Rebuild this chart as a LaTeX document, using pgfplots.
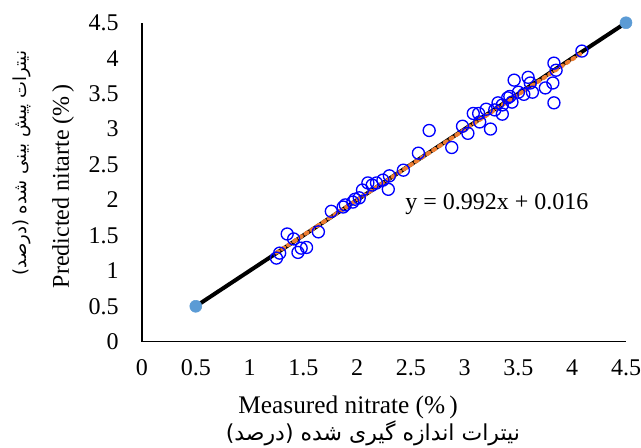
\documentclass[border=0pt]{standalone}
\usepackage{fontspec}
\setmainfont{Liberation Serif}
\newfontfamily\arabicfont[Script=Arabic]{DejaVu Sans}
\usepackage{pgfplots}
\pgfplotsset{compat=1.18}
\TeXXeTstate=1
\definecolor{ptblue}{RGB}{0,0,255}
\definecolor{endblue}{RGB}{91,155,213}
\definecolor{trendor}{RGB}{237,125,49}
\begin{document}
\begin{tikzpicture}
\useasboundingbox (-106.5pt,-79.7pt) rectangle (374.25pt,256.3pt);
\begin{axis}[name=ax, at={(0,0)}, anchor=south west,
  scale only axis, width=363pt, height=239.25pt,
  xmin=0, xmax=4.5, ymin=0, ymax=4.5,
  axis lines*=left,
  axis line style={black, line width=0.9pt},
  xtick={0,0.5,1,1.5,2,2.5,3,3.5,4,4.5},
  ytick={0,0.5,1,1.5,2,2.5,3,3.5,4,4.5},
  major tick length=0pt,
  tick label style={font=\fontsize{18}{20}\selectfont},
  xticklabel style={yshift=-10pt},
  yticklabel style={xshift=-14pt},
  /pgf/number format/assume math mode=true,
  clip=false,
]
\addplot[black, line width=3pt, mark=*, mark size=4.5pt,
  mark options={solid, draw=endblue, fill=endblue, line width=0.4pt}]
  coordinates {(0.5,0.5) (4.5,4.5)};
\addplot[only marks, mark=o, mark size=4.5pt,
  mark options={draw=ptblue, line width=1.0pt}] table {
x y
1.25 1.18
1.28 1.25
1.35 1.52
1.41 1.45
1.45 1.26
1.48 1.32
1.53 1.33
1.64 1.55
1.76 1.84
1.87 1.90
1.89 1.93
1.96 1.97
1.98 2.01
2.02 2.03
2.05 2.14
2.10 2.24
2.14 2.21
2.18 2.24
2.24 2.28
2.30 2.34
2.29 2.15
2.43 2.42
2.57 2.66
2.67 2.98
2.88 2.74
2.98 3.04
3.03 2.94
3.08 3.22
3.13 3.22
3.14 3.10
3.20 3.28
3.24 3.00
3.28 3.27
3.31 3.37
3.35 3.21
3.35 3.34
3.40 3.44
3.42 3.46
3.44 3.38
3.46 3.69
3.50 3.52
3.55 3.49
3.59 3.73
3.61 3.65
3.63 3.52
3.75 3.58
3.82 3.65
3.83 3.93
3.83 3.37
3.85 3.83
4.09 4.10
};
\addplot[trendor, line width=3pt, dash pattern=on 1.8pt off 3.4pt, line cap=round]
  coordinates {(1.25,1.256) (4.09,4.073)};
\node[font=\fontsize{18}{20}\selectfont] at (axis cs:3.30,1.94) {y = 0.992x + 0.016};
\node[rotate=90, font=\fontsize{18}{20}\selectfont] at (axis description cs:-0.163,0.488) {Predicted nitarte (\%\,)};
\node[rotate=90, font=\arabicfont\fontsize{13.5}{15}\selectfont] at (axis description cs:-0.248,0.56) {\beginR نیترات پیش بینی شده (درصد)\endR};
\node[font=\fontsize{19}{21}\selectfont] at (axis description cs:0.426,-0.205) {Measured nitrate (\%\,)};
\node[font=\arabicfont\fontsize{16.5}{18}\selectfont] at (axis description cs:0.477,-0.286) {\beginR نیترات اندازه گیری شده (درصد)\endR};
\end{axis}
\end{tikzpicture}
\end{document}
